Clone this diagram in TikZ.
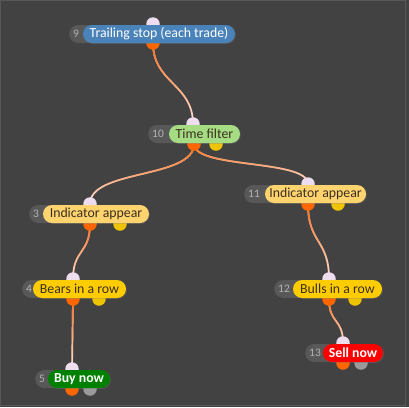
\documentclass[tikz,border=0pt]{standalone}
\usepackage{fontspec}
\setmainfont{Carlito}
\usetikzlibrary{fadings,calc,shadows}
\pgfdeclarelayer{bg}
\pgfdeclarelayer{ports}
\pgfsetlayers{bg,ports,main}
\definecolor{bgc}{HTML}{424242}
\definecolor{framec}{HTML}{585858}
\definecolor{numfill}{HTML}{585858}
\definecolor{numtext}{HTML}{B4B4B4}
\definecolor{tportc}{HTML}{EDDDEE}
\definecolor{oportc}{HTML}{FF6600}
\definecolor{yportc}{HTML}{EEC400}
\definecolor{gportc}{HTML}{9A9A9A}
\definecolor{linkstart}{HTML}{FF6A10}
\definecolor{linkend}{HTML}{FFE4DC}
\definecolor{bluec}{HTML}{4A82BA}
\definecolor{lgreenc}{HTML}{A6DC84}
\definecolor{lyellowc}{HTML}{FFD36E}
\definecolor{goldc}{HTML}{FFCC00}
\definecolor{dgreenc}{HTML}{008000}
\definecolor{redc}{HTML}{FF0000}
\definecolor{darktext}{HTML}{3A3020}
\tikzfading[name=linkfade, top color=transparent!0, middle color=transparent!20, bottom color=transparent!100]
\newcommand\linkcurve[3]{%
  \draw[link] (#1.center) .. controls ($(#1.center)+(0,#3)$) and ($(#2.center)+(0,-#3)$) .. (#2.center);
  \draw[link,draw=linkstart,path fading=linkfade] (#1.center) .. controls ($(#1.center)+(0,#3)$) and ($(#2.center)+(0,-#3)$) .. (#2.center);
}
\begin{document}
\begin{tikzpicture}[x=1pt,y=-1pt,
  pill/.style={rounded corners=9pt, minimum height=18pt, inner sep=0pt,
    font=\fontsize{13.8}{14}\selectfont, drop shadow={opacity=0.35, shadow xshift=0.8pt, shadow yshift=-0.8pt}},
  num/.style={fill=numfill, rounded corners=9pt, minimum height=18pt, anchor=west,
    inner xsep=4pt, inner ysep=0pt, text=numtext, align=left,
    font=\fontsize{11.5}{12}\selectfont},
  port/.style={circle, minimum size=13.5pt, inner sep=0pt},
  tport/.style={port, fill=tportc},
  oport/.style={port, fill=oportc},
  yport/.style={port, fill=yportc},
  gport/.style={port, fill=gportc},
  link/.style={line width=1.7pt, draw=linkend}]
\begin{pgfonlayer}{bg}
  \fill[bgc] (0,0) rectangle (409,407);
  \draw[framec, line width=1pt] (0.5,0.5) rectangle (405,405);
\end{pgfonlayer}
% node 9
\node[num, text width=20pt] (g9) at (69,34) {9};
\node[pill, fill=bluec, text=white, minimum width=152pt] (n9) at (159,34) {Trailing stop (each trade)};
% node 10
\node[num, text width=27pt] (g10) at (148,134) {10};
\node[pill, fill=lgreenc, text=darktext, minimum width=71pt] (n10) at (204.5,134) {Time filter};
% node 3
\node[num, text width=20pt] (g3) at (29,214) {3};
\node[pill, fill=lyellowc, text=darktext, minimum width=106pt] (n3) at (96,214) {Indicator appear};
% node 11
\node[num, text width=27pt] (g11) at (244,194) {11};
\node[pill, fill=lyellowc, text=darktext, minimum width=101pt] (n11) at (315.5,194) {Indicator appear};
% node 4
\node[num, text width=17pt] (g4) at (22,289) {4};
\node[pill, fill=goldc, text=darktext, minimum width=93pt] (n4) at (79.5,289) {Bears in a row};
% node 12
\node[num, text width=25pt] (g12) at (274,289) {12};
\node[pill, fill=goldc, text=darktext, minimum width=89pt] (n12) at (337.5,289) {Bulls in a row};
% node 5
\node[num, text width=19pt] (g5) at (35,379) {5};
\node[pill, fill=dgreenc, text=white, minimum width=62pt, font=\fontsize{13.8}{14}\selectfont\bfseries] (n5) at (79,379) {Buy now};
% node 13
\node[num, text width=24pt] (g13) at (305,353) {13};
\node[pill, fill=redc, text=white, minimum width=60pt, font=\fontsize{13.8}{14}\selectfont\bfseries] (n13) at (353,353) {Sell now};
\begin{pgfonlayer}{ports}
  \node[tport] (t9) at (153,24) {};
  \node[oport] (o9) at (153,43) {};
  \node[tport] (t10) at (193,124) {};
  \node[oport] (o10) at (194,144) {};
  \node[yport] (y10) at (216,144) {};
  \node[tport] (t3) at (90,204) {};
  \node[oport] (o3) at (90,224) {};
  \node[yport] (y3) at (120,224) {};
  \node[tport] (t11) at (308,184) {};
  \node[oport] (o11) at (308,204) {};
  \node[yport] (y11) at (338,204) {};
  \node[tport] (t4) at (73,279) {};
  \node[oport] (o4) at (73,299) {};
  \node[yport] (y4) at (99,299) {};
  \node[tport] (t12) at (329,279) {};
  \node[oport] (o12) at (329,299) {};
  \node[yport] (y12) at (355,299) {};
  \node[tport] (t5) at (72,369) {};
  \node[oport] (o5) at (72,389) {};
  \node[gport] (q5) at (90,389) {};
  \node[tport] (t13) at (343,343) {};
  \node[oport] (o13) at (343,363) {};
  \node[gport] (q13) at (361,363) {};
\end{pgfonlayer}
\begin{pgfonlayer}{bg}
  \linkcurve{o9}{t10}{40}
  \linkcurve{o10}{t3}{35}
  \linkcurve{o10}{t11}{25}
  \linkcurve{o3}{t4}{30}
  \linkcurve{o4}{t5}{35}
  \linkcurve{o11}{t12}{40}
  \linkcurve{o12}{t13}{25}
\end{pgfonlayer}
\end{tikzpicture}
\end{document}
